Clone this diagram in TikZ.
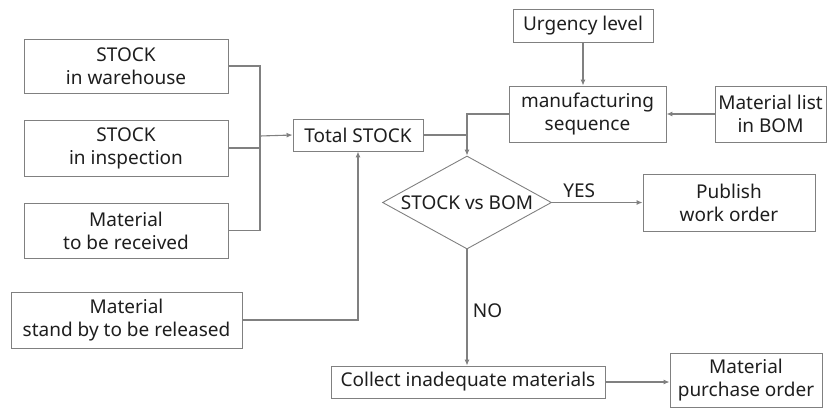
\documentclass[tikz,border=0pt]{standalone}
\usepackage{fontspec}
\setmainfont{Noto Sans}
\usetikzlibrary{arrows.meta,shapes.geometric}
\definecolor{linegray}{RGB}{128,128,128}
\definecolor{txtgray}{RGB}{30,30,30}
\tikzset{
  blk/.style={draw=linegray, line width=0.9pt, text=txtgray, align=center, inner sep=0pt},
  conn/.style={draw=linegray, line width=1.1pt},
  arr/.style={conn, -{Latex[length=6pt,width=5pt]}}
}
\begin{document}
\begin{tikzpicture}[x=1pt,y=-1pt, font=\fontsize{19}{23}\selectfont]
  \useasboundingbox (0,0) rectangle (830,408);
  % left column
  \node[blk, minimum width=204pt, minimum height=54pt] (ware) at (126,66) {STOCK\\in warehouse};
  \node[blk, minimum width=204pt, minimum height=56pt] (insp) at (126,148) {STOCK\\in inspection};
  \node[blk, minimum width=204pt, minimum height=55pt] (recv) at (126,230.5) {Material\\to be received};
  \node[blk, minimum width=231pt, minimum height=56pt] (standby) at (126.5,320) {Material\\stand by to be released};
  \node[blk, minimum width=130pt, minimum height=32pt] (total) at (358,135) {Total STOCK};
  % upper right
  \node[blk, minimum width=140pt, minimum height=33pt] (urg) at (583,25.5) {Urgency level};
  \node[blk, minimum width=157pt, minimum height=56pt] (manu) at (587.5,114) {manufacturing\\sequence};
  \node[blk, minimum width=111pt, minimum height=56pt] (bom) at (770.5,114) {Material list\\in BOM};
  % decision
  \node[blk, shape=diamond, aspect=1.8, minimum width=169pt, minimum height=93pt] (cmp) at (467,202.5) {STOCK vs BOM};
  \node[blk, minimum width=172pt, minimum height=57pt] (wo) at (729,202.5) {Publish\\work order};
  \node[blk, minimum width=274pt, minimum height=32pt] (collect) at (468,382) {Collect inadequate materials};
  \node[blk, minimum width=152pt, minimum height=54pt] (po) at (746,380) {Material\\purchase order};
  \coordinate (bus) at (260,136);
  % connectors
  \draw[conn] (ware.east) -| (bus);
  \draw[conn] (recv.east) -| (bus);
  \draw[conn] (insp.east) -- (insp.east -| bus);
  \draw[arr] (bus) -- (total.west);
  \draw[arr] (standby.east) -| (total.south);
  \draw[arr] (urg.south) -- (urg.south |- manu.north);
  \draw[arr] (bom.west) -- (manu.east);
  \draw[arr] (manu.west) -| (cmp.north);
  \draw[conn] (total.east) -- (total.east -| cmp.north);
  \draw[arr] (cmp.east) -- node[above, text=txtgray, pos=0.3, yshift=1pt] {YES} (wo.west);
  \draw[arr] (cmp.south) -- node[right, text=txtgray, pos=0.53, xshift=2pt] {NO} (cmp.south |- collect.north);
  \draw[arr] (collect.east) -- (collect.east -| po.west);
\end{tikzpicture}
\end{document}
